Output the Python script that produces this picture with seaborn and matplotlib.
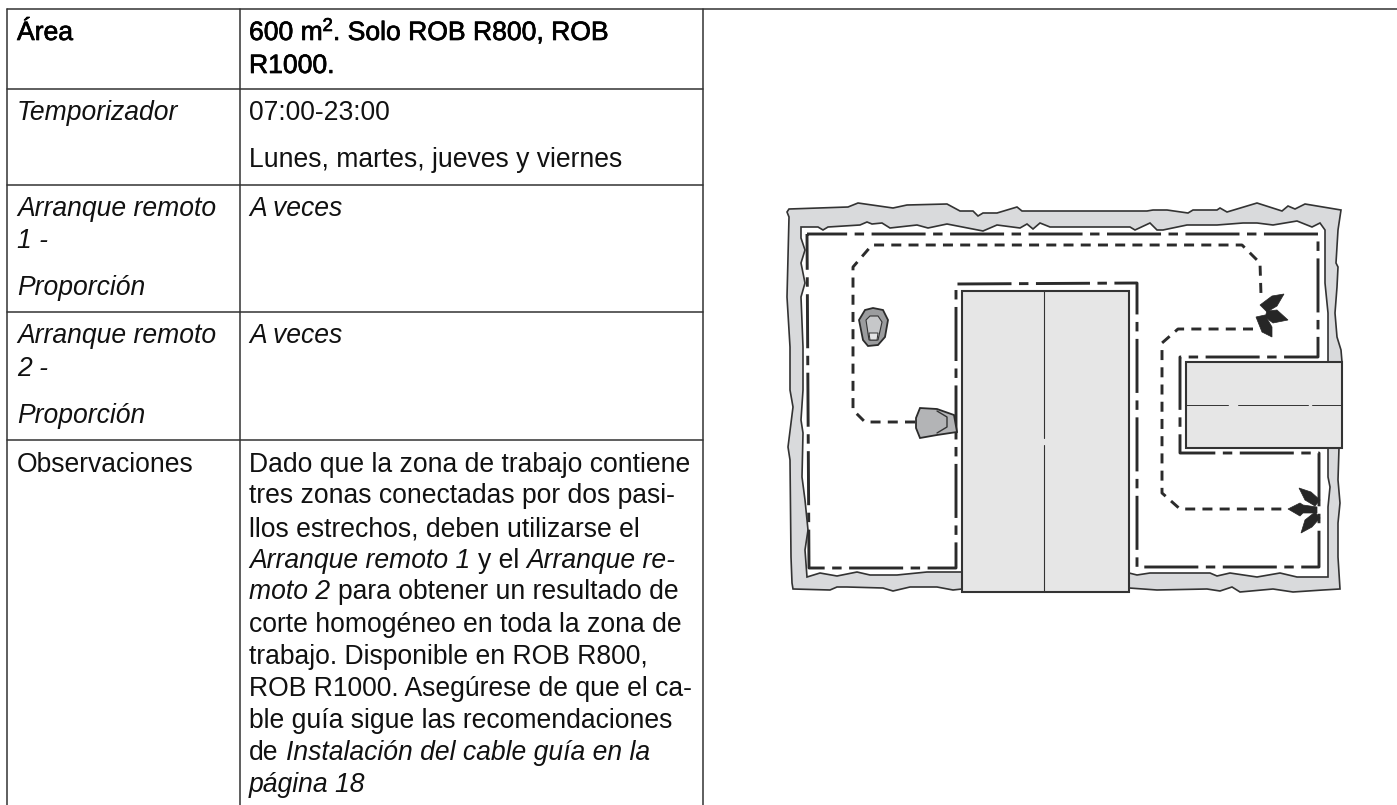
import matplotlib
matplotlib.use("Agg")
import matplotlib.pyplot as plt
import matplotlib.patheffects as pe
import pandas as pd
import seaborn as sns

# tabla: texto de cada fila
area_label = "Área"
area_value = ["600 m", "2", ". Solo ROB R800, ROB"]
area_value_2 = "R1000."
left_rows = [
    ("Temporizador", True), ("Arranque remoto", True), ("1 -", True), ("Proporción", True),
    ("Arranque remoto", True), ("2 -", True), ("Proporción", True), ("Observaciones", False),
]
left_base = [120, 216, 248, 295, 343, 376, 423, 472]
right_rows = [
    [("07:00-23:00", False)],
    [("Lunes, martes, jueves y viernes", False)],
    [("A veces", True)],
    [("A veces", True)],
    [("Dado que la zona de trabajo contiene", False)],
    [("tres zonas conectadas por dos pasi-", False)],
    [("llos estrechos, deben utilizarse el", False)],
    [("Arranque remoto 1", True), (" y el ", False), ("Arranque re-", True)],
    [("moto 2", True), (" para obtener un resultado de", False)],
    [("corte homogéneo en toda la zona de", False)],
    [("trabajo. Disponible en ROB R800,", False)],
    [("ROB R1000. Asegúrese de que el ca-", False)],
    [("ble guía sigue las recomendaciones", False)],
    [("de ", False), ("Instalación del cable guía en la", True)],
    [("página 18", True)],
]
right_base = [120, 167, 216, 343, 472, 503, 536, 568, 599, 632, 664, 696, 728, 760, 792]

# rejilla de la tabla
col_x = [7, 240, 703]
row_y = [89, 185, 312.5, 440]
top_y = 9
bottom_y = 805

# plano del jardin
outer_x = [787, 789, 848, 858, 872, 893, 907, 947, 960, 973, 978, 983, 997, 1017, 1022, 1050, 1147, 1153, 1167, 1188,
           1193, 1217, 1220, 1227, 1257, 1282, 1288, 1295, 1305, 1341, 1338, 1336, 1338, 1337, 1335, 1337, 1341, 1342,
           1339, 1338, 1340, 1338, 1338, 1340, 1323, 1293, 1273, 1240, 1232, 1220, 1207, 1157, 1129, 962, 953, 937,
           910, 893, 883, 847, 837, 830, 793, 792, 791, 790, 788, 793, 790, 790, 787, 789]
outer_y = [212, 209, 207, 203, 205, 208, 205, 204, 211, 211, 216, 213, 213, 207, 211, 211, 211, 210, 210, 213,
           210, 210, 208, 212, 203, 211, 206, 209, 204, 210, 230, 263, 267, 287, 313, 337, 350, 362,
           448, 480, 503, 523, 557, 589, 590, 592, 589, 592, 587, 591, 589, 590, 588, 589, 590, 587,
           587, 591, 588, 587, 587, 590, 589, 583, 557, 460, 447, 407, 390, 347, 297, 217]
inner_x = [801, 818, 823, 828, 860, 867, 872, 882, 890, 917, 928, 947, 983, 997, 1020, 1027, 1033, 1040, 1050, 1130,
           1135, 1150, 1157, 1163, 1187, 1217, 1243, 1257, 1273, 1297, 1312, 1320, 1325, 1325, 1328, 1328,
           1328, 1328, 1330, 1328, 1328, 1297, 1280, 1257, 1230, 1217, 1210, 1150, 1137, 1129,
           961, 927, 897, 870, 857, 837, 820, 807, 805, 808, 805, 802, 803, 801, 803, 803, 801, 805, 801, 805, 801]
inner_y = [227, 227, 230, 227, 225, 222, 224, 223, 228, 225, 228, 224, 231, 225, 228, 224, 229, 223, 227, 227,
           230, 223, 230, 230, 225, 225, 223, 223, 225, 221, 227, 223, 230, 283, 313, 362,
           448, 477, 487, 507, 577, 577, 573, 577, 573, 576, 573, 573, 575, 573,
           572, 572, 575, 575, 572, 576, 573, 577, 550, 530, 500, 477, 433, 420, 390, 347, 297, 283, 263, 250, 238]
house_x = [962, 1129, 1129, 962, 962]
house_y = [291, 291, 592, 592, 291]
house_ridge_x = [1044, 1044]
house_ridge_y_1 = [291, 438]
house_ridge_y_2 = [445, 592]
shed_x = [1186, 1342, 1342, 1186, 1186]
shed_y = [362, 362, 448, 448, 362]
shed_ridge_y = [405, 405]
shed_ridge_x = [(1186, 1228), (1238, 1308), (1312, 1342)]
wire_x = [807, 1318, 1318, 1180, 1180, 1319, 1319, 1137, 1137, 956, 956, 809, 807]
wire_y = [234, 234, 357, 357, 453, 453, 567, 567, 283, 284, 568, 568, 234]
guide_1_x = [915, 865, 853, 853, 872, 1242, 1260, 1261]
guide_1_y = [422, 422, 410, 267, 245, 245, 263, 295]
guide_2_x = [1253, 1178, 1162, 1162, 1180, 1288]
guide_2_y = [329, 329, 343, 493, 509, 509]
arrow_1 = [
    [(1260, 305), (1272, 296), (1284, 294), (1277, 306), (1267, 312)],
    [(1267, 311), (1277, 310), (1288, 320), (1273, 323), (1265, 317)],
    [(1256, 317), (1265, 315), (1272, 327), (1272, 337), (1262, 332)],
]
arrow_2 = [
    [(1299, 488), (1311, 492), (1320, 500), (1315, 506), (1305, 500)],
    [(1288, 509), (1300, 503), (1303, 505), (1317, 507), (1317, 513), (1303, 513), (1300, 516)],
    [(1301, 533), (1305, 520), (1315, 512), (1320, 518), (1312, 527)],
]
mower_top = [(859, 320), (865, 310), (873, 308), (883, 310), (888, 320), (885, 337), (878, 345), (868, 346), (863, 340)]
mower_top_in = [(866, 320), (870, 316), (878, 316), (882, 322), (878, 340), (869, 340)]
mower_top_seat = [(869, 333), (878, 333), (877, 340), (870, 340)]
mower_side = [(916, 418), (920, 408), (937, 409), (954, 415), (957, 432), (937, 435), (920, 438), (916, 428)]
mower_side_in_x = [937, 947, 947, 937]
mower_side_in_y = [411, 417, 427, 433]

FONT = "Liberation Sans"
SIZE = 19.1
INK = "#111111"
LINE = "#333333"

sns.set_theme(style="white")
plt.rcParams["font.family"] = [FONT, "DejaVu Sans"]
plt.rcParams["lines.scale_dashes"] = False

fig = plt.figure(figsize=(13.97, 8.05), dpi=100)
ax = fig.add_axes([0, 0, 1, 1])
ax.set_xlim(0, 1397)
ax.set_ylim(805, 0)
ax.axis("off")


def path(x, y, color=LINE, lw=1.1, ls="-", z=3):
    df = pd.DataFrame({"x": x, "y": y})
    sns.lineplot(data=df, x="x", y="y", ax=ax, sort=False, estimator=None, color=color,
                 linewidth=lw, linestyle=ls, legend=False, zorder=z)


def poly(pts_x, pts_y, fill, edge=LINE, lw=1.2, z=2):
    ax.fill(pts_x, pts_y, facecolor=fill, edgecolor=edge, linewidth=lw, zorder=z)


def shape(pts, fill, edge=LINE, lw=1.0, z=5):
    poly([p[0] for p in pts], [p[1] for p in pts], fill, edge, lw, z)


def text_w(s, italic):
    r = fig.canvas.get_renderer()
    t = ax.text(0, 0, s + "|", fontsize=SIZE, style="italic" if italic else "normal")
    w = t.get_window_extent(r).width
    t.set_text("|")
    w -= t.get_window_extent(r).width
    t.remove()
    return w


def runs(x, y, parts):
    for s, italic in parts:
        lead = s[:len(s) - len(s.lstrip())]
        ax.text(x + text_w(lead, italic), y, s.strip(), fontsize=SIZE,
                style="italic" if italic else "normal", color=INK, va="baseline")
        x += text_w(s, italic)


# rejilla
path([col_x[0], 1397], [top_y, top_y])
for yy in row_y:
    path([col_x[0], col_x[2]], [yy, yy])
for xx in col_x:
    path([xx, xx], [top_y, bottom_y])

# texto de la tabla
heavy = [pe.withStroke(linewidth=0.5, foreground="black")]
ax.text(17, 40, area_label, fontsize=SIZE, color="black", path_effects=heavy)
x0 = 249
ax.text(x0, 40, area_value[0], fontsize=SIZE, color="black", path_effects=heavy)
x1 = x0 + text_w(area_value[0], False)
ax.text(x1, 31, area_value[1], fontsize=SIZE * 0.7, color="black", path_effects=heavy)
x2 = x1 + text_w(area_value[1], False) * 0.7
ax.text(x2, 40, area_value[2], fontsize=SIZE, color="black", path_effects=heavy)
ax.text(x0, 73, area_value_2, fontsize=SIZE, color="black", path_effects=heavy)

for (s, italic), yy in zip(left_rows, left_base):
    runs(17, yy, [(s, italic)])
for parts, yy in zip(right_rows, right_base):
    runs(x0, yy, parts)

# plano
poly(outer_x, outer_y, "#d9dadc", z=1)
poly(inner_x, inner_y, "white", z=1.5)
poly(house_x, house_y, "#e6e6e6", lw=1.5, z=2)
poly(shed_x, shed_y, "#e6e6e6", lw=1.5, z=2)
path(house_ridge_x, house_ridge_y_1, lw=0.8)
path(house_ridge_x, house_ridge_y_2, lw=0.8)
for a, b in shed_ridge_x:
    path([a, b], shed_ridge_y, lw=0.7)
path(wire_x, wire_y, color="#2b2b2b", lw=2.1, ls=(10, (38.9, 5.4, 6.8, 5.4)), z=4)
path(guide_1_x, guide_1_y, color="#2b2b2b", lw=2.1, ls=(0, (7.2, 5.2)), z=4)
path(guide_2_x, guide_2_y, color="#2b2b2b", lw=2.1, ls=(0, (7.2, 5.2)), z=4)
for petal in arrow_1 + arrow_2:
    shape(petal, "#262626", "#262626", 0.5)
shape(mower_top, "#9b9c9e", "#2b2b2b", 1.3)
shape(mower_top_in, "#c6c7c9", "#333333", 0.8, z=6)
shape(mower_top_seat, "#e4e4e5", "#333333", 0.7, z=7)
shape(mower_side, "#b3b4b6", "#2b2b2b", 1.3)
path(mower_side_in_x, mower_side_in_y, lw=1.0, z=6)

plt.savefig("out.png", dpi=100)
